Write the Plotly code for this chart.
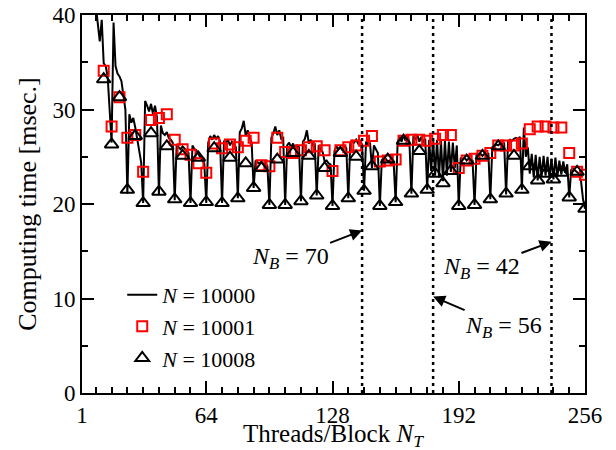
import plotly.graph_objects as go

# ---------------- data ----------------
# N = 10000 : computing time for every threads/block value 8..256
nt_line = list(range(8, 257))
t_10000 = [
    41.0, 39.0, 37.2, 39.5, 34.9, 34.6, 33.5, 30.0,   # 8-15
    26.5, 39.2, 34.6, 33.8, 33.5, 33.0, 31.7, 30.0,   # 16-23
    21.1, 29.5, 28.6, 29.1, 28.1, 27.0, 25.8, 24.4,   # 24-31
    20.1, 30.9, 30.4, 29.8, 30.6, 29.5, 30.4, 29.2,   # 32-39
    21.0, 28.3, 27.5, 27.3, 27.6, 27.0, 26.8, 26.5,   # 40-47
    20.4, 26.3, 26.0, 25.8, 26.1, 25.9, 25.6, 25.4,   # 48-55
    20.1, 26.2, 25.8, 25.7, 25.3, 25.0, 24.7, 24.3,   # 56-63
    20.1, 26.5, 27.2, 26.8, 27.3, 26.9, 27.2, 26.6,   # 64-71
    20.1, 26.7, 26.5, 26.8, 26.2, 26.6, 26.4, 26.0,   # 72-79
    20.6, 27.6, 28.0, 28.8, 27.2, 27.8, 27.0, 26.5,   # 80-87
    21.7, 24.6, 24.4, 24.3, 24.5, 24.2, 24.3, 24.0,   # 88-95
    19.9, 27.0, 27.5, 28.2, 27.3, 27.8, 26.9, 27.0,   # 96-103
    19.9, 26.2, 26.5, 26.0, 26.4, 25.9, 26.2, 26.0,   # 104-111
    20.3, 26.6, 26.9, 27.8, 26.4, 26.8, 26.2, 26.3,   # 112-119
    20.9, 26.2, 25.8, 25.5, 24.5, 24.6, 24.3, 24.2,   # 120-127
    19.8, 25.6, 26.1, 25.8, 26.0, 25.7, 26.2, 25.9,   # 128-135
    20.6, 26.4, 26.7, 26.5, 26.8, 26.4, 26.6, 26.3,   # 136-143
    21.4, 26.6, 26.3, 26.5, 23.8, 26.2, 25.8, 25.4,   # 144-151
    19.8, 24.7, 24.5, 24.8, 24.5, 24.6, 24.3, 24.4,   # 152-159
    20.2, 26.5, 27.1, 26.6, 27.3, 26.7, 27.2, 26.5,   # 160-167
    21.1, 27.2, 26.8, 27.3, 26.6, 27.1, 26.5, 26.9,   # 168-175
    21.5, 26.8, 23.5, 26.9, 23.0, 26.8, 22.8, 26.7,   # 176-183
    22.4, 26.8, 23.0, 26.6, 23.4, 26.5, 23.8, 26.2,   # 184-191
    19.8, 24.9, 24.7, 24.9, 24.6, 24.8, 24.7, 24.6,   # 192-199
    19.9, 25.2, 25.1, 25.3, 25.1, 25.3, 25.2, 25.4,   # 200-207
    20.5, 26.0, 26.1, 26.3, 26.2, 26.4, 26.3, 26.5,   # 208-215
    21.0, 26.6, 26.8, 26.7, 26.9, 27.0, 26.9, 27.1,   # 216-223
    21.5, 28.1, 25.0, 26.0, 23.2, 25.3, 22.8, 25.2,   # 224-231
    22.5, 25.0, 22.9, 25.1, 23.0, 25.0, 22.7, 24.8,   # 232-239
    22.6, 24.9, 22.9, 24.6, 23.1, 24.5, 23.3, 24.2,   # 240-247
    20.7, 23.6, 23.7, 23.5, 23.4, 23.2, 22.4, 20.5,   # 248-255
    19.5,                                             # 256
]

# N = 10001 and N = 10008 : sampled every 4 threads/block (12..256)
nt_marks = list(range(12, 257, 4))
t_10001 = [
    34.1, 28.2, 31.3, 27.0, 27.3, 23.4, 28.9, 29.1, 29.5, 26.8,
    25.8, 25.2, 24.3, 23.3, 26.4, 25.9, 26.3, 26.0, 26.7, 27.0,
    24.1, 24.0, 27.0, 25.5, 25.4, 25.7, 26.0, 26.1, 25.7, 23.5,
    25.7, 26.0, 26.2, 26.7, 27.2, 24.5, 24.6, 24.7, 26.7, 26.8,
    26.8, 26.7, 26.9, 27.3, 27.3, 23.8, 24.6, 24.8, 25.1, 25.4,
    26.2, 26.2, 26.2, 26.4, 27.9, 28.2, 28.2, 28.1, 28.1, 25.4,
    23.4, 23.1,
]
t_10008 = [
    33.2, 26.3, 31.3, 21.5, 27.2, 20.1, 27.5, 21.3, 26.1, 20.5,
    25.1, 20.1, 24.9, 20.2, 25.9, 20.1, 24.9, 20.6, 24.3, 21.7,
    23.8, 19.9, 24.7, 19.9, 25.4, 20.3, 25.1, 20.9, 23.8, 19.8,
    25.4, 20.6, 25.0, 21.4, 24.0, 19.8, 24.7, 20.2, 26.7, 21.1,
    25.6, 21.5, 23.2, 22.2, 23.5, 19.8, 24.6, 19.9, 25.1, 20.5,
    26.1, 21.1, 25.1, 21.5, 24.0, 22.5, 23.2, 22.6, 23.3, 20.7,
    23.4, 19.5,
]

# block-count boundaries (N_B) marked by dotted lines
nb_labels = [70, 56, 42]
nb_threads = [143, 179, 239]

x_ticks = [1, 64, 128, 192, 256]

FONT = "'Liberation Serif', 'Times New Roman', Times, serif"

fig = go.Figure()
fig.add_trace(go.Scatter(
    x=nt_line, y=t_10000, mode="lines",
    line=dict(color="black", width=2),
    name="<i>N</i> = 10000"))
fig.add_trace(go.Scatter(
    x=nt_marks, y=t_10001, mode="markers",
    marker=dict(symbol="square-open", size=10, color="red",
                line=dict(color="red", width=2)),
    name="<i>N</i> = 10001"))
fig.add_trace(go.Scatter(
    x=nt_marks, y=t_10008, mode="markers",
    marker=dict(symbol="triangle-up-open", size=12, color="black",
                line=dict(color="black", width=2)),
    name="<i>N</i> = 10008"))

for xv in nb_threads:
    fig.add_shape(type="line", xref="x", yref="y", x0=xv, x1=xv, y0=0, y1=40,
                  line=dict(color="black", width=2.5, dash="3px,4px"))

# annotation offsets (text position relative to arrow head, in px)
ann_offsets = {70: (-72, 28, 17.2), 56: (70, 30, 10.2), 42: (-70, 26, 16.0)}
for nb, xv in zip(nb_labels, nb_threads):
    ax, ay, yv = ann_offsets[nb]
    fig.add_annotation(
        x=xv, y=yv, xref="x", yref="y",
        text=f"<i>N<sub>B</sub></i> = {nb}",
        showarrow=True, arrowhead=2, arrowsize=1.2, arrowwidth=2,
        arrowcolor="black", ax=ax, ay=ay, standoff=0,
        font=dict(family=FONT, size=24, color="black"))

# x-axis title placed as an annotation for exact placement
fig.add_annotation(
    x=0.5, y=0, xref="paper", yref="paper", xanchor="center", yanchor="middle",
    yshift=-42, showarrow=False,
    text="Threads/Block <i>N<sub>T</sub></i>",
    font=dict(family=FONT, size=25, color="black"))

axis_common = dict(
    showline=True, linecolor="black", linewidth=2, mirror="ticks",
    ticks="inside", ticklen=12, tickwidth=2, tickcolor="black",
    showgrid=False, zeroline=False, automargin=False,
    ticklabeloverflow="allow",
    tickfont=dict(family=FONT, size=23, color="black"),
)

fig.update_xaxes(
    range=[1, 256], tickmode="array", tickvals=x_ticks,
    ticktext=[str(v) for v in x_ticks],
    minor=dict(ticks="inside", ticklen=6, tickwidth=2, tickcolor="black",
               tick0=0, dtick=8, showgrid=False),
    **axis_common)
fig.update_yaxes(
    range=[0, 40], tickmode="linear", tick0=0, dtick=10,
    minor=dict(ticks="inside", ticklen=6, tickwidth=2, tickcolor="black",
               tick0=0, dtick=5, showgrid=False),
    title=dict(text="Computing time [msec.]",
               font=dict(family=FONT, size=26, color="black"), standoff=8),
    **axis_common)

# page body has an 8px margin: compensate so the plot lands where the reference has it
fig.update_layout(
    width=616, height=450,
    margin=dict(l=74, r=39, t=7, b=65, autoexpand=False),
    paper_bgcolor="white", plot_bgcolor="white",
    font=dict(family=FONT, size=24, color="black"),
    legend=dict(x=0.08, y=0.315, xanchor="left", yanchor="top",
                bgcolor="rgba(0,0,0,0)", tracegroupgap=0,
                font=dict(family=FONT, size=22, color="black")),
)

fig.write_html("out.html")
